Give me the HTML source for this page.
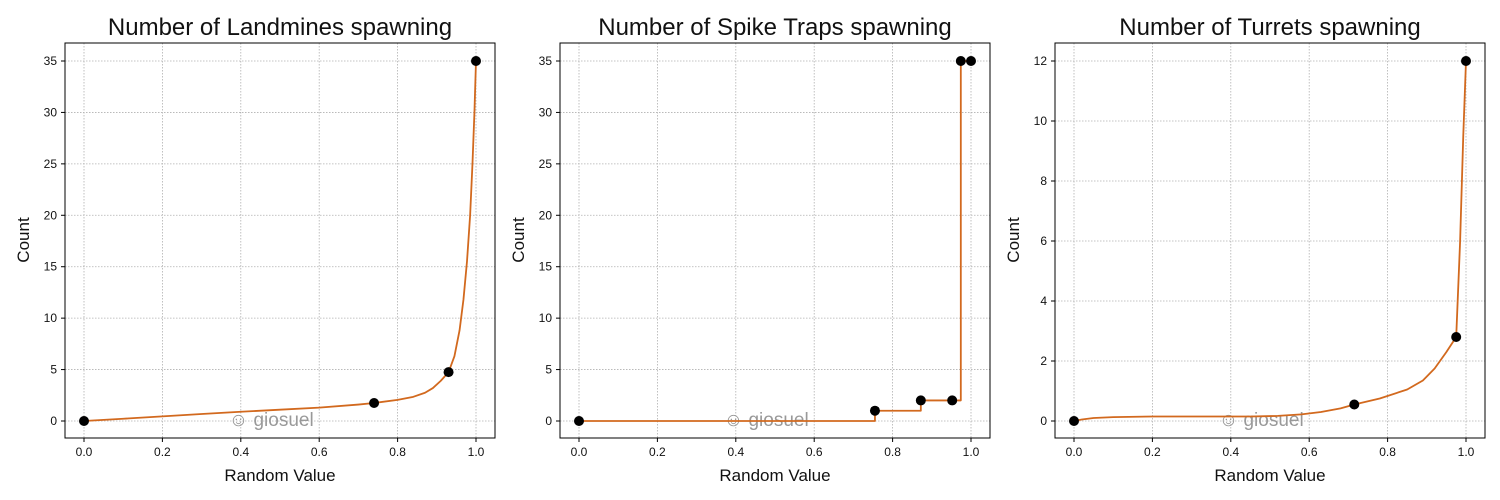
<!DOCTYPE html><html><head><style>body{margin:0;background:#fff}svg{display:block}text{font-family:"Liberation Sans",sans-serif;fill:#111}</style></head><body>
<svg id="s" width="1500" height="500" xmlns="http://www.w3.org/2000/svg"></svg>
<script>
const s=document.getElementById('s');let h='';
const panels=[
{x0:65,title:'Number of Landmines spawning',ymax:35,yt:[0,5,10,15,20,25,30,35],
 curve:[[0,0],[0.1,0.22],[0.2,0.45],[0.3,0.68],[0.4,0.9],[0.5,1.1],[0.6,1.3],[0.7,1.6],[0.74,1.75],[0.8,2.05],[0.84,2.35],[0.87,2.75],[0.89,3.2],[0.91,3.9],[0.93,4.75],[0.945,6.3],[0.958,8.8],[0.968,11.8],[0.977,15.5],[0.985,20],[0.991,25],[0.996,30],[1,35]],
 pts:[[0,0],[0.74,1.75],[0.93,4.75],[1,35]]},
{x0:560,title:'Number of Spike Traps spawning',ymax:35,yt:[0,5,10,15,20,25,30,35],
 curve:[[0,0],[0.755,0],[0.755,1],[0.872,1],[0.872,2],[0.974,2],[0.974,35],[1,35]],
 pts:[[0,0],[0.755,1],[0.872,2],[0.952,2],[0.974,35],[1,35]]},
{x0:1055,title:'Number of Turrets spawning',ymax:12,yt:[0,2,4,6,8,10,12],
 curve:[[0,0],[0.02,0.05],[0.05,0.1],[0.1,0.13],[0.2,0.15],[0.3,0.15],[0.45,0.15],[0.52,0.17],[0.58,0.22],[0.63,0.3],[0.68,0.42],[0.715,0.55],[0.78,0.75],[0.85,1.05],[0.89,1.35],[0.92,1.75],[0.95,2.3],[0.975,2.8],[0.985,6],[0.993,9.5],[1,12]],
 pts:[[0,0],[0.715,0.55],[0.975,2.8],[1,12]]}];
for(const p of panels){
 const X=v=>p.x0+19+v*392, Y=v=>421-v*360/p.ymax;
 for(let i=0;i<=5;i++){const x=X(i/5);h+=`<line x1="${x}" y1="43" x2="${x}" y2="438" stroke="#b0b0b0" stroke-width="0.8" stroke-dasharray="1.5,1.5"/><line x1="${x}" y1="438" x2="${x}" y2="442" stroke="#000"/><text x="${x}" y="456" font-size="12" text-anchor="middle">${(i/5).toFixed(1)}</text>`;}
 for(const t of p.yt){const y=Y(t);h+=`<line x1="${p.x0}" y1="${y}" x2="${p.x0+430}" y2="${y}" stroke="#b0b0b0" stroke-width="0.8" stroke-dasharray="1.5,1.5"/><line x1="${p.x0-4}" y1="${y}" x2="${p.x0}" y2="${y}" stroke="#000"/><text x="${p.x0-8}" y="${y+4}" font-size="12" text-anchor="end">${t}</text>`;}
 h+=`<text x="${X(0.4)-12}" y="${426}" font-size="19" style="fill:#999">☺ giosuel</text>`;
 h+=`<polyline fill="none" stroke="#d2691e" stroke-width="1.8" stroke-linejoin="round" points="${p.curve.map(c=>X(c[0])+','+Y(c[1])).join(' ')}"/>`;
 for(const c of p.pts)h+=`<circle cx="${X(c[0])}" cy="${Y(c[1])}" r="5" fill="#000"/>`;
 h+=`<rect x="${p.x0}" y="43" width="430" height="395" fill="none" stroke="#000" stroke-width="1"/>`;
 h+=`<text x="${p.x0+215}" y="35" font-size="24" text-anchor="middle">${p.title}</text>`;
 h+=`<text x="${p.x0+215}" y="481" font-size="17" text-anchor="middle">Random Value</text>`;
 h+=`<text transform="translate(${p.x0-36},240) rotate(-90)" font-size="17" text-anchor="middle">Count</text>`;
}
s.innerHTML=h;
</script></body></html>
